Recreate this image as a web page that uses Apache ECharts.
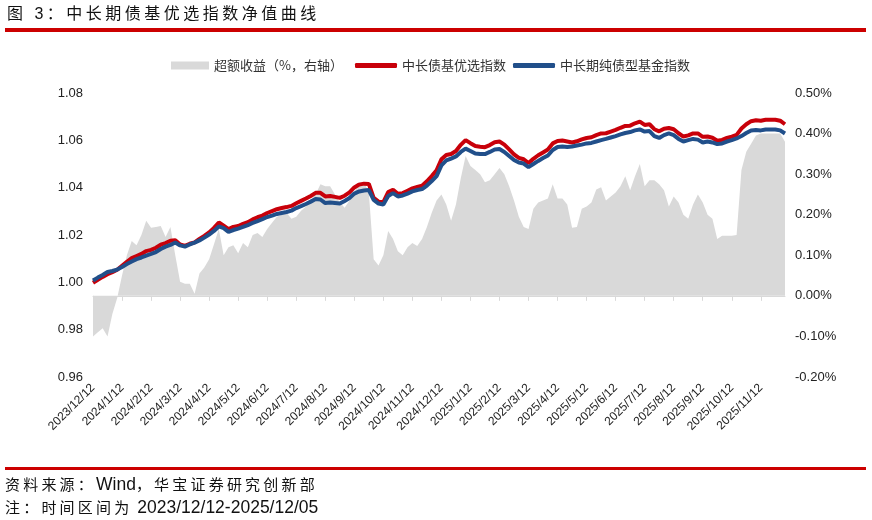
<!DOCTYPE html>
<html>
<head>
<meta charset="utf-8">
<title>中长期债基优选指数净值曲线</title>
<script src="https://cdn.jsdelivr.net/npm/echarts@6/dist/echarts.min.js"></script>
<style>
body{margin:0;background:#fff;}
#wrap{position:relative;width:872px;height:520px;overflow:hidden;}
#main{position:absolute;left:0;top:0;width:872px;height:520px;}
.title{position:absolute;left:7px;top:4px;font-size:16px;line-height:20px;letter-spacing:3.5px;color:#111;
  font-family:"Liberation Sans","Noto Sans CJK SC",sans-serif;white-space:nowrap;}
.rule{position:absolute;left:5px;width:861px;height:4px;background:#cc0000;}
.note{position:absolute;left:5px;font-size:17.5px;line-height:20px;color:#111;white-space:nowrap;
  font-family:"Liberation Sans","Noto Sans CJK SC",sans-serif;}
.note .cn{font-size:15px;letter-spacing:3.2px;}
</style>
</head>
<body>
<div id="wrap">
  <div id="main"></div>
  <div class="title">图 3：中长期债基优选指数净值曲线</div>
  <div class="rule" style="top:28px"></div>
  <div class="rule" style="top:467px;height:3px"></div>
  <div class="note" style="top:474px"><span class="cn">资料来源：</span>Wind<span class="cn">，华宝证券研究创新部</span></div>
  <div class="note" style="top:497px"><span class="cn">注：时间区间为</span> 2023/12/12-2025/12/05</div>
</div>
<script>
// 横轴刻度标签（每月12日）
var tickLabels = ['2023/12/12','2024/1/12','2024/2/12','2024/3/12','2024/4/12','2024/5/12','2024/6/12',
  '2024/7/12','2024/8/12','2024/9/12','2024/10/12','2024/11/12','2024/12/12','2025/1/12','2025/2/12',
  '2025/3/12','2025/4/12','2025/5/12','2025/6/12','2025/7/12','2025/8/12','2025/9/12','2025/10/12','2025/11/12'];

// 超额收益（%，右轴）
var excessReturn = [
  -0.10,-0.09,-0.08,-0.10,-0.045,-0.005,
  0.05,0.10,0.135,0.125,0.15,0.185,
  0.168,0.17,0.172,0.145,0.17,0.10,
  0.035,0.03,0.03,0.005,0.055,0.07,
  0.09,0.127,0.165,0.10,0.12,0.125,
  0.105,0.13,0.12,0.15,0.155,0.145,
  0.165,0.18,0.195,0.20,0.205,0.19,
  0.195,0.21,0.22,0.234,0.25,0.275,
  0.27,0.27,0.25,0.23,0.217,0.235,
  0.255,0.28,0.28,0.255,0.09,0.075,
  0.10,0.16,0.14,0.11,0.10,0.12,
  0.13,0.123,0.14,0.17,0.205,0.235,
  0.25,0.225,0.185,0.225,0.29,0.345,
  0.32,0.31,0.30,0.28,0.285,0.30,
  0.315,0.30,0.27,0.235,0.195,0.17,
  0.165,0.215,0.23,0.235,0.24,0.275,
  0.24,0.24,0.225,0.168,0.17,0.215,
  0.22,0.23,0.262,0.268,0.235,0.245,
  0.255,0.27,0.295,0.26,0.295,0.325,
  0.27,0.285,0.285,0.275,0.26,0.22,
  0.245,0.23,0.20,0.19,0.225,0.25,
  0.23,0.20,0.19,0.14,0.148,0.148,
  0.148,0.15,0.31,0.355,0.375,0.395,
  0.40,0.40,0.40,0.40,0.40,0.38
];

// 中长债基优选指数
var preferIndex = [
  0.9998,1.0011,1.0023,1.0034,1.0043,1.0053,
  1.0070,1.0087,1.0102,1.0111,1.0120,1.0132,
  1.0137,1.0146,1.0159,1.0166,1.0176,1.0178,
  1.0160,1.0154,1.0163,1.0169,1.0183,1.0196,
  1.0211,1.0230,1.0253,1.0239,1.0225,1.0234,
  1.0238,1.0247,1.0254,1.0266,1.0275,1.0282,
  1.0293,1.0301,1.0309,1.0314,1.0318,1.0323,
  1.0334,1.0344,1.0354,1.0365,1.0378,1.0378,
  1.0363,1.0365,1.0361,1.0357,1.0366,1.0380,
  1.0401,1.0413,1.0417,1.0416,1.0357,1.0341,
  1.0339,1.0381,1.0391,1.0374,1.0377,1.0387,
  1.0397,1.0403,1.0408,1.0427,1.0449,1.0473,
  1.0520,1.0538,1.0542,1.0555,1.0581,1.0601,
  1.0588,1.0576,1.0573,1.0571,1.0580,1.0592,
  1.0595,1.0582,1.0562,1.0541,1.0526,1.0520,
  1.0504,1.0522,1.0537,1.0549,1.0561,1.0587,
  1.0597,1.0599,1.0595,1.0591,1.0596,1.0604,
  1.0610,1.0613,1.0622,1.0629,1.0630,1.0637,
  1.0644,1.0653,1.0661,1.0662,1.0672,1.0679,
  1.0665,1.0668,1.0647,1.0638,1.0649,1.0652,
  1.0647,1.0630,1.0616,1.0621,1.0629,1.0629,
  1.0615,1.0616,1.0611,1.0598,1.0602,1.0610,
  1.0616,1.0623,1.0650,1.0668,1.0681,1.0685,
  1.0683,1.0687,1.0687,1.0687,1.0683,1.0668
];

// 中长期纯债型基金指数
var fundIndex = [
  1.0008,1.0020,1.0031,1.0044,1.0048,1.0054,
  1.0065,1.0077,1.0088,1.0098,1.0105,1.0113,
  1.0120,1.0128,1.0141,1.0151,1.0158,1.0168,
  1.0156,1.0151,1.0160,1.0168,1.0177,1.0189,
  1.0202,1.0217,1.0236,1.0229,1.0213,1.0221,
  1.0227,1.0234,1.0242,1.0251,1.0259,1.0267,
  1.0276,1.0282,1.0289,1.0293,1.0297,1.0303,
  1.0314,1.0322,1.0331,1.0341,1.0352,1.0350,
  1.0335,1.0337,1.0335,1.0333,1.0344,1.0356,
  1.0375,1.0384,1.0388,1.0390,1.0348,1.0333,
  1.0329,1.0365,1.0377,1.0363,1.0367,1.0375,
  1.0384,1.0390,1.0394,1.0409,1.0428,1.0449,
  1.0494,1.0515,1.0523,1.0532,1.0551,1.0565,
  1.0555,1.0544,1.0542,1.0542,1.0551,1.0561,
  1.0563,1.0551,1.0534,1.0517,1.0506,1.0502,
  1.0487,1.0500,1.0513,1.0525,1.0536,1.0559,
  1.0572,1.0574,1.0572,1.0574,1.0578,1.0582,
  1.0587,1.0589,1.0595,1.0601,1.0606,1.0612,
  1.0618,1.0625,1.0631,1.0635,1.0642,1.0646,
  1.0637,1.0639,1.0618,1.0610,1.0622,1.0629,
  1.0622,1.0606,1.0595,1.0601,1.0606,1.0603,
  1.0591,1.0595,1.0591,1.0584,1.0587,1.0595,
  1.0601,1.0608,1.0618,1.0631,1.0642,1.0644,
  1.0642,1.0646,1.0646,1.0646,1.0642,1.0629
];

// 日期：每月12、17、22、27日及次月2、7日（最后一段到2025/12/5）
var dates = [];
tickLabels.forEach(function(t, m){
  var p = t.split('/'), y = +p[0], mo = +p[1];
  var ny = mo === 12 ? y + 1 : y, nmo = mo === 12 ? 1 : mo + 1;
  [12,17,22,27].forEach(function(d){ dates.push(y + '/' + mo + '/' + d); });
  dates.push(ny + '/' + nmo + '/2');
  dates.push(ny + '/' + nmo + '/' + (m === tickLabels.length - 1 ? 5 : 7));
});

function isTick(idx, val){ return tickLabels.indexOf(val) >= 0; }

var myChart = echarts.init(document.getElementById('main'));
var cnFont = '"Noto Sans CJK SC", sans-serif';
var numFont = '"Liberation Sans", Arial, sans-serif';

var option = {
  animation: false,
  backgroundColor: '#fff',
  grid: {left: 93, right: 87, top: 93, bottom: 143},
  legend: [
    {
      data: [{name: '超额收益（%，右轴）', icon: 'rect'}],
      left: 166, top: 54, itemWidth: 38, itemHeight: 8, itemGap: 0,
      textStyle: {fontSize: 13, color: '#333', fontFamily: cnFont}
    },
    {
      data: [{name: '中长债基优选指数', icon: 'roundRect'}, {name: '中长期纯债型基金指数', icon: 'roundRect'}],
      left: 350, top: 54, itemWidth: 42, itemHeight: 5, itemGap: 7,
      textStyle: {fontSize: 13, color: '#333', fontFamily: cnFont}
    }
  ],
  xAxis: {
    type: 'category',
    data: dates,
    boundaryGap: false,
    axisLine: {lineStyle: {color: '#d9d9d9', width: 1}},
    axisTick: {interval: isTick, length: 5, lineStyle: {color: '#d9d9d9'}},
    axisLabel: {interval: isTick, rotate: 45, margin: 9, fontSize: 12, color: '#222', fontFamily: numFont}
  },
  yAxis: [
    {
      type: 'value', min: 0.96, max: 1.08, interval: 0.02,
      axisLine: {show: false}, axisTick: {show: false}, splitLine: {show: false},
      axisLabel: {margin: 10, fontSize: 13, color: '#222', fontFamily: numFont,
        formatter: function(v){ return v.toFixed(2); }}
    },
    {
      type: 'value', position: 'right', min: -0.2, max: 0.5, interval: 0.1,
      axisLine: {show: false}, axisTick: {show: false}, splitLine: {show: false},
      axisLabel: {margin: 10, fontSize: 13, color: '#222', fontFamily: numFont,
        formatter: function(v){ return v.toFixed(2) + '%'; }}
    }
  ],
  series: [
    {
      name: '超额收益（%，右轴）',
      type: 'line',
      yAxisIndex: 1,
      data: excessReturn,
      symbol: 'none',
      lineStyle: {width: 0},
      itemStyle: {color: '#d9d9d9'},
      areaStyle: {color: '#d9d9d9', opacity: 1}
    },
    {
      name: '中长债基优选指数',
      type: 'line',
      data: preferIndex,
      symbol: 'none',
      itemStyle: {color: '#c8000a'},
      lineStyle: {width: 4, color: '#c8000a'}
    },
    {
      name: '中长期纯债型基金指数',
      type: 'line',
      data: fundIndex,
      symbol: 'none',
      itemStyle: {color: '#214f8a'},
      lineStyle: {width: 4, color: '#214f8a'}
    }
  ]
};

myChart.setOption(option);
</script>
</body>
</html>
